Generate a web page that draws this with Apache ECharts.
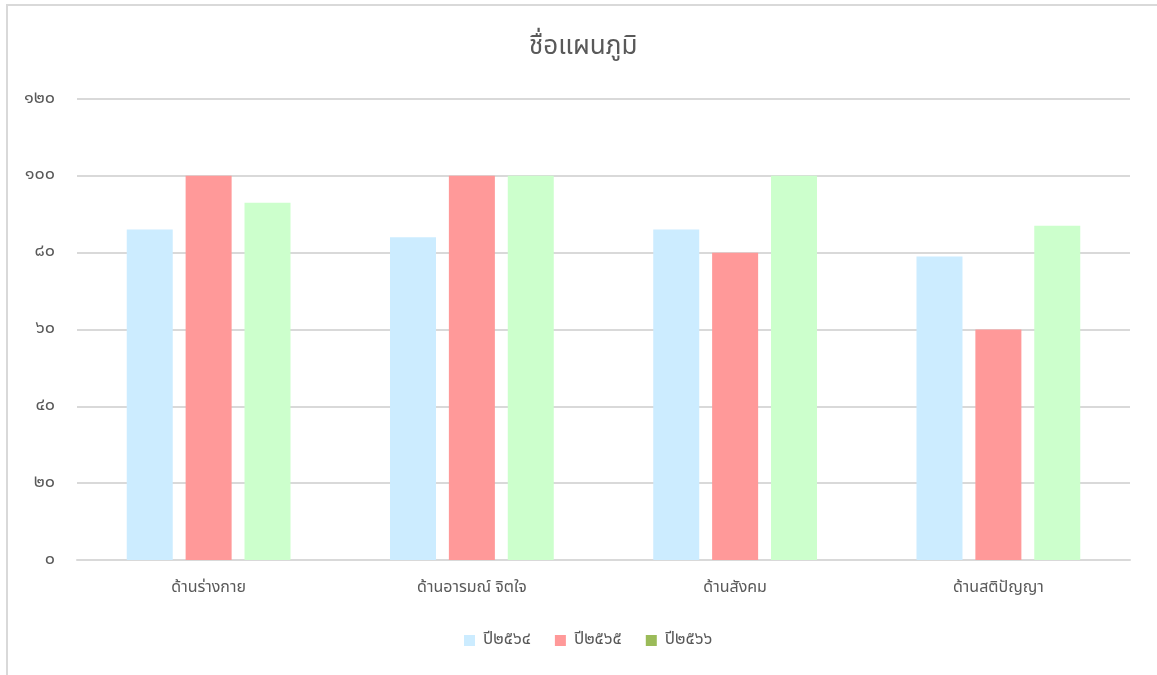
<!DOCTYPE html>
<html>
<head>
<meta charset="utf-8">
<script src="https://cdn.jsdelivr.net/npm/echarts@6/dist/echarts.min.js"></script>
<style>
  html, body { margin: 0; padding: 0; background: #fff; }
  #frame { position: absolute; left: 6px; top: 4px; width: 1160px; height: 680px;
           border-left: 2px solid #d9d9d9; border-top: 2px solid #d9d9d9; box-sizing: border-box; }
  #chart { position: absolute; left: 0; top: 0; width: 1157px; height: 675px; }
</style>
</head>
<body>
<div id="frame"></div>
<div id="chart"></div>
<script>
// หมวดหมู่ (แกน x)
const categories = ['ด้านร่างกาย', 'ด้านอารมณ์ จิตใจ', 'ด้านสังคม', 'ด้านสติปัญญา']
// ชื่อชุดข้อมูล
const seriesNames = ['ปี๒๕๖๔', 'ปี๒๕๖๕', 'ปี๒๕๖๖']
// ค่าของแต่ละปี
const y2564 = [86, 84, 86, 79]
const y2565 = [100, 100, 80, 60]
const y2566 = [93, 100, 100, 87]
// ป้ายแกน y (เลขไทย) ทุก 20
const yTickLabels = ['๐', '๒๐', '๔๐', '๖๐', '๘๐', '๑๐๐', '๑๒๐']

const barColors = ['#CCECFF', '#FF9999', '#CCFFCC']
const legendColors = ['#CCECFF', '#FF9999', '#9BBB59']
const textFont = '"Noto Sans Thai", "Leelawadee UI", "Noto Sans", sans-serif'

var myChart = echarts.init(document.getElementById('chart'))
var option = {
  animation: false,
  title: {
    text: 'ชื่อแผนภูมิ',
    left: 524,
    top: 31,
    textStyle: { color: '#595959', fontSize: 26, fontWeight: 'normal', fontFamily: textFont },
  },
  legend: {
    bottom: 21,
    left: 459,
    itemWidth: 11,
    itemHeight: 11,
    itemGap: 24,
    icon: 'rect',
    textStyle: { color: '#595959', fontSize: 17, fontFamily: textFont, padding: [0, 0, 0, 3] },
    data: seriesNames.map((n, i) => ({ name: n, itemStyle: { color: legendColors[i] } })),
  },
  grid: { left: 77, right: 27, top: 99, bottom: 115 },
  xAxis: {
    type: 'category',
    data: categories,
    axisLine: { lineStyle: { color: '#d9d9d9', width: 2 } },
    axisTick: { show: false },
    axisLabel: { color: '#595959', fontSize: 16, margin: 21, fontFamily: textFont },
  },
  yAxis: {
    type: 'value',
    min: 0,
    max: 120,
    interval: 20,
    axisLine: { show: false },
    axisTick: { show: false },
    splitLine: { lineStyle: { color: '#d9d9d9', width: 2 } },
    axisLabel: {
      color: '#595959',
      fontSize: 18,
      margin: 22,
      fontFamily: textFont,
      formatter: (v) => yTickLabels[Math.round(v / 20)],
    },
  },
  series: [
    { name: seriesNames[0], type: 'bar', data: y2564, barWidth: 46, barGap: '28%', itemStyle: { color: barColors[0] } },
    { name: seriesNames[1], type: 'bar', data: y2565, barWidth: 46, barGap: '28%', itemStyle: { color: barColors[1] } },
    { name: seriesNames[2], type: 'bar', data: y2566, barWidth: 46, barGap: '28%', itemStyle: { color: barColors[2] } },
  ],
}
myChart.setOption(option)
</script>
</body>
</html>
